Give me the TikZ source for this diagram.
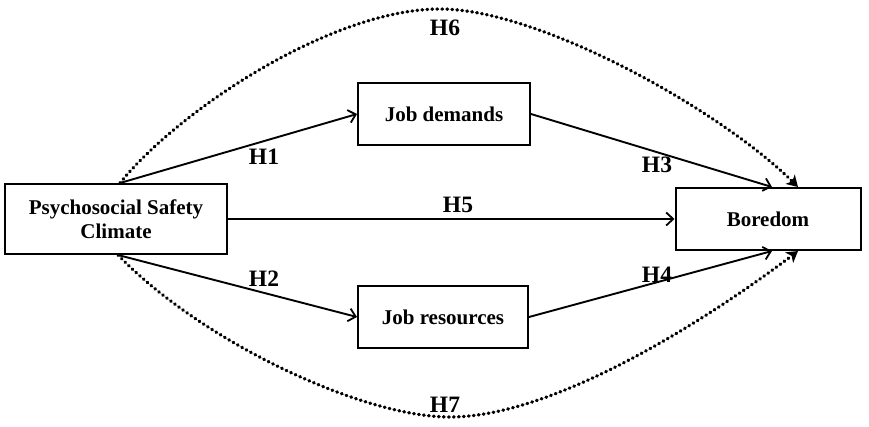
\documentclass[tikz,border=0pt]{standalone}
\usepackage{fontspec}
\setmainfont{Liberation Serif}
\usetikzlibrary{arrows.meta}
\begin{document}
\begin{tikzpicture}[x=1pt,y=-1pt,
  box/.style={draw,line width=2pt,minimum width=#1,minimum height=62pt,inner sep=0pt,align=center,
    font=\fontsize{21}{23.5}\selectfont\bfseries},
  lbl/.style={font=\fontsize{23.5}{26}\selectfont\bfseries},
  solidarr/.style={line width=1.9pt,-{Straight Barb[length=7pt,width=13pt,line width=1.8pt]}},
  dotline/.style={line width=3.4pt,line cap=round,dash pattern=on 0.6pt off 4.4pt},
  dotarr/.style={dotline,-{Stealth[length=11pt,width=13pt,inset=3pt,line cap=butt]}}]
\useasboundingbox (0,0) rectangle (869,426);
\node[box=222pt,minimum height=70pt] (psc) at (116,219) {Psychosocial Safety\\Climate};
\node[box=172pt] (jd) at (444,114) {Job demands};
\node[box=170pt] (jr) at (443,317) {Job resources};
\node[box=185pt] (bor) at (768,219) {Boredom};
\coordinate (pt) at ([xshift=4pt]psc.north);
\coordinate (pb) at ([xshift=2pt]psc.south);
\coordinate (bt) at ([xshift=4pt]bor.north);
\coordinate (bb) at ([xshift=4pt]bor.south);
\coordinate (bt2) at ([xshift=30pt]bor.north);
\coordinate (bb2) at ([xshift=30pt]bor.south);
\coordinate (top) at (440,9);
\coordinate (bot) at (450,417);
\draw[solidarr] (pt) -- (jd.west);
\draw[solidarr] (pb) -- (jr.west);
\draw[solidarr] (jd.east) -- (bt);
\draw[solidarr] (jr.east) -- (bb);
\draw[solidarr] (psc.east) -- (bor.west);
\draw[dotarr] (pt) .. controls (177,112) and (330,9) .. (top)
  .. controls (540,9) and (720,110) .. (bt2);
\draw[dotarr] (pb) .. controls (200,340) and (360,417) .. (bot)
  .. controls (560,417) and (720,310) .. (bb2);
\node[lbl] (h6) at (445,28) {H6};
\node[lbl] (h1) at (264,157) {H1};
\node[lbl] (h3) at (657,165) {H3};
\node[lbl] (h5) at (458,205) {H5};
\node[lbl] (h2) at (264,279) {H2};
\node[lbl] (h4) at (657,275) {H4};
\node[lbl] (h7) at (445,405) {H7};
\end{tikzpicture}
\end{document}
